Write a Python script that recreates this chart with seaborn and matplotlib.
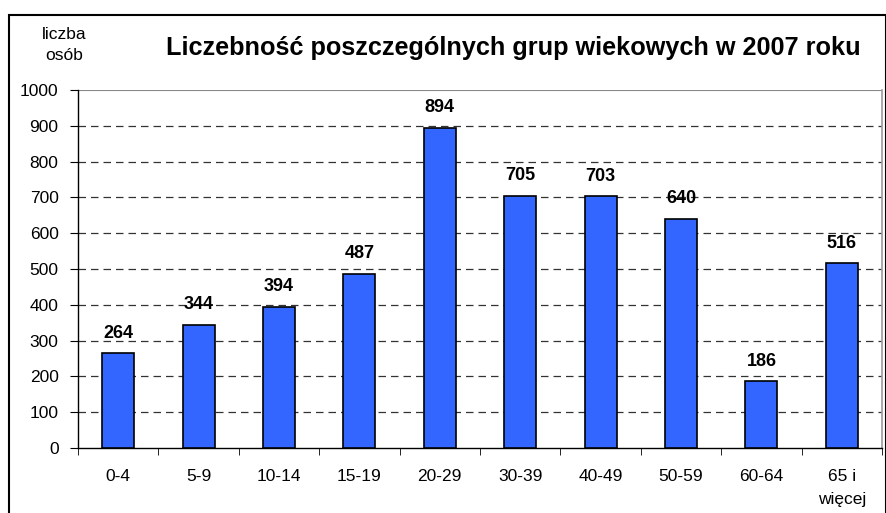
import numpy as np
import pandas as pd
import matplotlib
matplotlib.use("Agg")
import matplotlib.pyplot as plt
import seaborn as sns
from matplotlib.patches import Rectangle

groups = ["0-4", "5-9", "10-14", "15-19", "20-29", "30-39", "40-49", "50-59", "60-64", "65 i\nwięcej"]
counts = [264, 344, 394, 487, 894, 705, 703, 640, 186, 516]
yticks = list(range(0, 1001, 100))

sns.set_style("white")
plt.rcParams['font.family'] = ['Liberation Sans', 'DejaVu Sans']
plt.rcParams['text.color'] = 'black'
plt.rcParams['xtick.color'] = 'black'
plt.rcParams['ytick.color'] = 'black'

df = pd.DataFrame({"grupa": groups, "liczba": counts})

fig = plt.figure(figsize=(8.87, 5.13), dpi=100)
ax = fig.add_axes([78 / 887, 1 - 448 / 513, 804 / 887, 358 / 513])

sns.barplot(data=df, x="grupa", y="liczba", color="#3366FF", saturation=1,
            width=0.4, edgecolor="black", linewidth=1.2, ax=ax, zorder=3)

ax.set_xlim(-0.5, len(groups) - 0.5)
ax.set_ylim(0, 1000)
ax.set_yticks(yticks)
ax.tick_params(axis="y", labelsize=12.5, length=6, direction="out", left=True, pad=8)
ax.set_xticks(np.arange(len(groups)))
ax.set_xticklabels(groups, fontsize=12.5, linespacing=1.65)
ax.set_xticks(np.arange(-0.5, len(groups)), minor=True)
ax.tick_params(axis="x", which="major", length=0, pad=15)
ax.tick_params(axis="x", which="minor", length=5, direction="out", bottom=True)
for lbl in ax.get_xticklabels():
    lbl.set_verticalalignment("top")
ax.set_xlabel("")
ax.set_ylabel("")

for y in yticks[1:-1]:
    ax.axhline(y, color="#333333", linestyle=(0, (6, 4)), linewidth=0.9, zorder=1)
ax.axhline(1000, color="#888888", linewidth=1.5, zorder=1)

for side in ["left", "bottom"]:
    ax.spines[side].set_color("black")
    ax.spines[side].set_linewidth(1)
ax.spines["top"].set_visible(False)
ax.spines["right"].set_color("#999999")
ax.spines["right"].set_linewidth(1.2)

for i, v in enumerate(counts):
    ax.text(i, v + 32, str(v), ha="center", va="bottom", fontsize=13, fontweight="bold")

fig.text(513 / 887, 1 - 48 / 513, "Liczebność poszczególnych grup wiekowych w 2007 roku",
         ha="center", va="center", fontsize=18.2, fontweight="bold")
fig.text(64 / 887, 1 - 45 / 513, "liczba\nosób", ha="center", va="center",
         fontsize=12.5, linespacing=1.55)

fig.patches.append(Rectangle((9 / 887, -0.01), 877 / 887, 1 - 15 / 513 + 0.01,
                             transform=fig.transFigure, fill=False,
                             edgecolor="black", linewidth=1.5))

fig.savefig("out.png", dpi=100)
